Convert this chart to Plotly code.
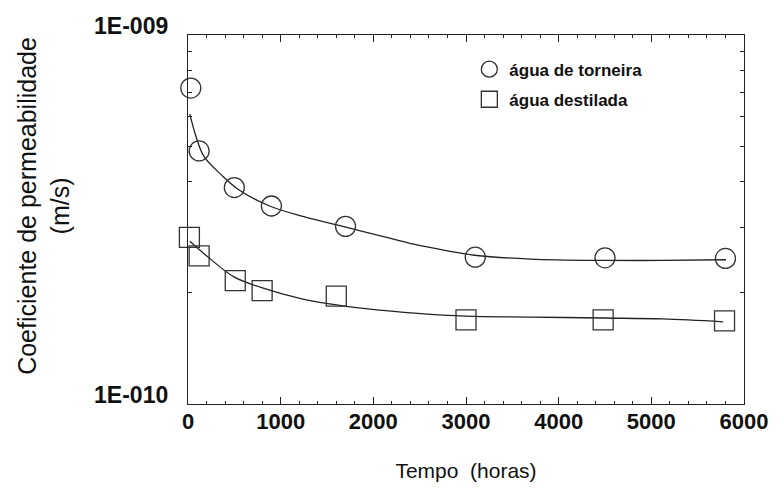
import plotly.graph_objects as go

# Measured points (hours, m/s)
tap_t = [30, 120, 500, 900, 1700, 3100, 4500, 5800]
tap_k = [7.18e-10, 4.85e-10, 3.86e-10, 3.44e-10, 3.03e-10, 2.50e-10, 2.49e-10, 2.48e-10]
dist_t = [15, 120, 510, 800, 1600, 3000, 4480, 5790]
dist_k = [2.83e-10, 2.52e-10, 2.16e-10, 2.03e-10, 1.96e-10, 1.69e-10, 1.69e-10, 1.68e-10]

# Fitted curves
tap_fit_t = [20, 86, 172, 355, 539, 894, 1250, 1713, 2187, 2435, 2801, 3092, 3695, 4492, 5127, 5806]
tap_fit_k = [6.10e-10, 5.31e-10, 4.69e-10, 4.19e-10, 3.82e-10, 3.43e-10, 3.22e-10, 3.01e-10,
             2.81e-10, 2.71e-10, 2.60e-10, 2.53e-10, 2.47e-10, 2.45e-10, 2.45e-10, 2.46e-10]
dist_fit_t = [20, 226, 496, 786, 1217, 1508, 1939, 2477, 2995, 3695, 4481, 5127, 5774]
dist_fit_k = [2.76e-10, 2.49e-10, 2.21e-10, 2.07e-10, 1.93e-10, 1.87e-10, 1.81e-10, 1.76e-10,
              1.73e-10, 1.72e-10, 1.71e-10, 1.70e-10, 1.67e-10]

x_ticks = [0, 1000, 2000, 3000, 4000, 5000, 6000]
y_ticks = [1e-10, 1e-9]
y_ticktext = ["1E-010", "1E-009"]
y_minor = [2e-10, 3e-10, 4e-10, 5e-10, 6e-10, 7e-10, 8e-10, 9e-10]

series_names = ["água de torneira", "água destilada"]
y_title = "Coeficiente de permeabilidade<br>(m/s)"
x_title = "Tempo  (horas)"

FONT = "Liberation Sans, Arial, sans-serif"
INK = "#222222"

fig = go.Figure()

fig.add_trace(go.Scatter(x=tap_fit_t, y=tap_fit_k, mode="lines",
                         line=dict(color=INK, width=1.3, shape="spline", smoothing=1.0),
                         showlegend=False, hoverinfo="skip"))
fig.add_trace(go.Scatter(x=dist_fit_t, y=dist_fit_k, mode="lines",
                         line=dict(color=INK, width=1.3, shape="spline", smoothing=1.0),
                         showlegend=False, hoverinfo="skip"))

fig.add_trace(go.Scatter(x=tap_t, y=tap_k, mode="markers", name=series_names[0],
                         legendgroup="a",
                         marker=dict(symbol="circle-open", size=20, color="#333333",
                                     line=dict(width=1.3, color="#333333")),
                         cliponaxis=False))
fig.add_trace(go.Scatter(x=dist_t, y=dist_k, mode="markers", name=series_names[1],
                         legendgroup="b",
                         marker=dict(symbol="square-open", size=20, color="#333333",
                                     line=dict(width=1.3, color="#333333")),
                         cliponaxis=False))

fig.update_layout(
    width=782, height=499,
    margin=dict(l=188, r=38, t=35, b=95),
    paper_bgcolor="white", plot_bgcolor="white",
    font=dict(family=FONT, color="#111111"),
    legend=dict(x=0.506, y=0.955, xanchor="left", yanchor="top",
                bgcolor="rgba(0,0,0,0)", borderwidth=0,
                font=dict(size=17, family=FONT, weight="bold", color="#111111"),
                traceorder="grouped", tracegroupgap=5),
    xaxis=dict(range=[0, 6000], tickvals=x_ticks, ticks="inside", ticklen=7,
               tickcolor=INK, tickwidth=1, showline=True, linecolor=INK, linewidth=1.3,
               mirror="allticks", showgrid=False, zeroline=False,
               minor=dict(ticks="inside", ticklen=3, dtick=200, tickcolor=INK, showgrid=False),
               tickfont=dict(size=22, family=FONT, weight="bold"),
               ticklabelstandoff=-3,
               title=dict(text=x_title, font=dict(size=21, family=FONT), standoff=30)),
    yaxis=dict(type="log", range=[-10, -9], tickvals=y_ticks, ticktext=y_ticktext,
               ticks="inside", ticklen=7, tickcolor=INK, tickwidth=1,
               showline=True, linecolor=INK, linewidth=1.3, mirror="allticks",
               showgrid=False, zeroline=False,
               minor=dict(ticks="inside", ticklen=4, tickvals=y_minor, tickcolor=INK, showgrid=False),
               tickfont=dict(size=23, family=FONT, weight="bold"),
               ticklabelstandoff=14, ticklabelshift=-9),
    annotations=[dict(text=y_title, xref="paper", yref="paper", x=-0.259, y=0.537,
                      xanchor="center", yanchor="middle", textangle=-90, showarrow=False,
                      font=dict(size=25, family=FONT, color="#111111"))],
)

fig.write_html("out.html")
